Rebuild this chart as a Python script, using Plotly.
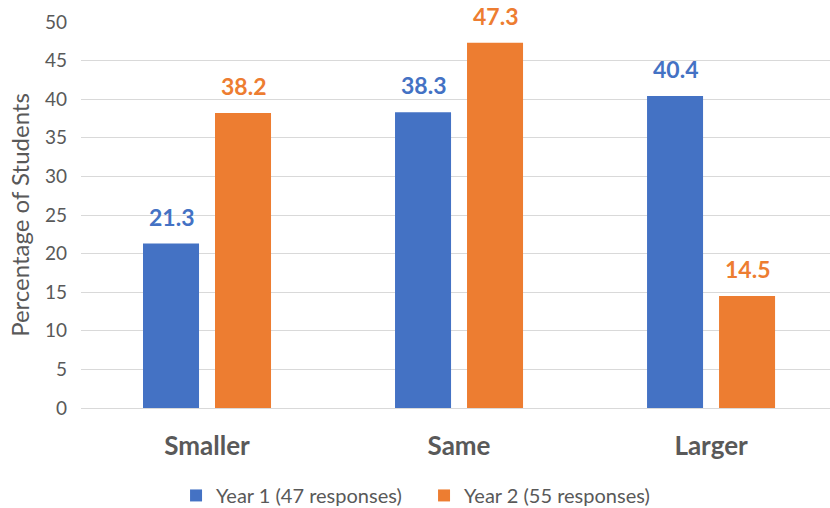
import plotly.graph_objects as go

categories = ["Smaller", "Same", "Larger"]
year1 = [21.3, 38.3, 40.4]
year2 = [38.2, 47.3, 14.5]
series_names = ["Year 1 (47 responses)", "Year 2 (55 responses)"]
colors = ["#4472C4", "#ED7D31"]
y_ticks = [0, 5, 10, 15, 20, 25, 30, 35, 40, 45, 50]

FONT = "Lato, Open Sans, Liberation Sans, Arial"

fig = go.Figure()
for name, vals, col in zip(series_names, [year1, year2], colors):
    fig.add_trace(go.Bar(
        x=categories, y=vals, name=name, marker=dict(color=col, line=dict(width=0)),
    ))

# data labels placed above bars (offset matches grouped-bar layout)
bar_offsets = [-36, 36]
for vals, col, dx in zip([year1, year2], colors, bar_offsets):
    for cat, v in zip(categories, vals):
        fig.add_annotation(
            x=cat, y=v, xref="x", yref="y", text=f"{v:.1f}", showarrow=False,
            xshift=dx, yshift=27, yanchor="middle",
            font=dict(family=FONT, size=23, color=col, weight="bold"),
        )

fig.update_layout(
    width=830, height=508,
    margin=dict(l=81, r=0, t=22, b=100, autoexpand=False),
    paper_bgcolor="white", plot_bgcolor="white",
    barmode="group", bargap=0.4286, bargroupgap=0.222,
    font=dict(family=FONT, color="#595959"),
    showlegend=True,
    legend=dict(orientation="h", x=0.458, xanchor="center", y=-0.176, yanchor="top",
                font=dict(size=20, color="#595959"), traceorder="normal",
                tracegroupgap=0, entrywidth=203),
    xaxis=dict(range=[-0.5, 2.472], showgrid=False, showline=False, zeroline=False,
               ticks="", tickfont=dict(size=26, color="#595959", weight="bold"),
               ticklabelstandoff=20, automargin=False),
    yaxis=dict(range=[0, 50], tickvals=y_ticks, showgrid=True, gridcolor="#D9D9D9",
               gridwidth=1, zeroline=True, zerolinecolor="#D9D9D9", zerolinewidth=1,
               tickfont=dict(size=19, color="#595959"), ticks="", ticklabelstandoff=13,
               automargin=False,
               title=dict(text="Percentage of Students", font=dict(size=24, color="#595959"),
                          standoff=8)),
)

fig.write_html("out.html", config={"displayModeBar": False},
               post_script="document.body.style.margin='0';")
